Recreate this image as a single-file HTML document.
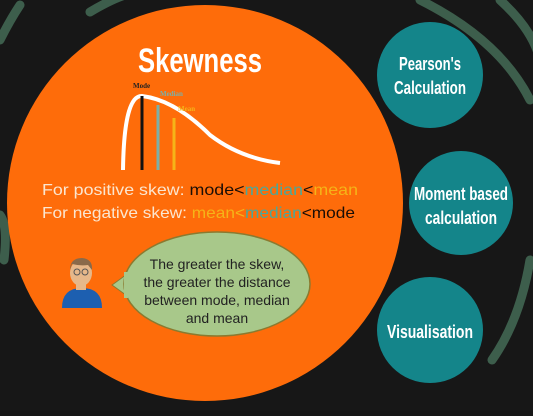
<!DOCTYPE html>
<html><head><style>
body{margin:0;width:533px;height:411px;overflow:hidden;background:#161616;font-family:"Liberation Sans",sans-serif}
</style></head><body>
<svg width="533" height="411" viewBox="0 0 533 411" xmlns="http://www.w3.org/2000/svg">
<rect width="533" height="411" fill="#171717"/>
<g fill="none" stroke="#3d5e4c" stroke-width="9" stroke-linecap="round">
<path d="M90 12 Q110 0 125 -5"/>
<path d="M0 40 Q10 20 20 5"/>
<path d="M0 215 Q8 225 4 260"/>
<path d="M420 0 Q500 40 530 100"/>
<path d="M500 0 Q533 30 540 60"/>
<path d="M530 260 Q520 320 492 360"/>
</g>
<circle cx="205" cy="203" r="198" fill="#fe6c0a"/>
<circle cx="430" cy="75" r="53" fill="#14858a"/>
<circle cx="461" cy="203" r="52" fill="#14858a"/>
<circle cx="430" cy="330" r="53" fill="#14858a"/>
<g fill="#fff" font-weight="bold" font-size="18" text-anchor="middle" lengthAdjust="spacingAndGlyphs">
<text x="430" y="70" textLength="62" lengthAdjust="spacingAndGlyphs">Pearson's</text>
<text x="430" y="94" textLength="72" lengthAdjust="spacingAndGlyphs">Calculation</text>
<text x="461" y="200" textLength="94" lengthAdjust="spacingAndGlyphs">Moment based</text>
<text x="461" y="224" textLength="72" lengthAdjust="spacingAndGlyphs">calculation</text>
<text x="430" y="338" textLength="86" lengthAdjust="spacingAndGlyphs">Visualisation</text>
</g>
<text x="200" y="72" fill="#fff" font-weight="bold" font-size="34" text-anchor="middle" textLength="124" lengthAdjust="spacingAndGlyphs">Skewness</text>
<path d="M123 170 Q124 95 142 96 Q175 100 210 135 Q240 158 280 163" fill="none" stroke="#fff" stroke-width="4"/>
<line x1="142" y1="96" x2="142" y2="170" stroke="#111" stroke-width="3"/>
<line x1="158" y1="105" x2="158" y2="170" stroke="#7ab0a8" stroke-width="3"/>
<line x1="174" y1="118" x2="174" y2="170" stroke="#f5b418" stroke-width="3"/>
<g font-family="Liberation Serif,serif" font-weight="bold" font-size="7">
<text x="133" y="88" fill="#222">Mode</text>
<text x="160" y="96" fill="#7ab0a8">Median</text>
<text x="178" y="111" fill="#f5b418">Mean</text>
</g>
<g font-size="16">
<text x="42" y="195" fill="#fbe6d0" textLength="316" lengthAdjust="spacingAndGlyphs">For positive skew: <tspan fill="#1a0e06">mode&lt;</tspan><tspan fill="#4aa89a">median</tspan><tspan fill="#1a0e06">&lt;</tspan><tspan fill="#f5b418">mean</tspan></text>
<text x="42" y="218" fill="#fbe6d0" textLength="313" lengthAdjust="spacingAndGlyphs">For negative skew: <tspan fill="#f5b418">mean&lt;</tspan><tspan fill="#4aa89a">median</tspan><tspan fill="#1a0e06">&lt;mode</tspan></text>
</g>
<path d="M112 285 L130 272 L130 298 Z" fill="#a8c88a" stroke="#8a7a30"/>
<ellipse cx="217" cy="284" rx="93" ry="52" fill="#a8c88a" stroke="#8a7a30" stroke-width="1.5"/>
<path d="M126 272 L126 298" stroke="#a8c88a" stroke-width="4"/>
<g font-size="14" fill="#222" text-anchor="middle">
<text x="217" y="269">The greater the skew,</text>
<text x="217" y="287">the greater the distance</text>
<text x="217" y="305">between mode, median</text>
<text x="217" y="323">and mean</text>
</g>
<path d="M62 308 Q62 288 82 288 Q102 288 102 308 Z" fill="#1d5fb0"/>
<rect x="76" y="280" width="10" height="10" fill="#e6b88a"/>
<ellipse cx="81" cy="273" rx="11" ry="13" fill="#e6b88a"/>
<path d="M70 270 Q70 258 82 258 Q93 259 92 270 L88 265 Q80 266 72 264 Z" fill="#8a6a4a"/>
<circle cx="77" cy="272" r="3" fill="none" stroke="#555"/>
<circle cx="85" cy="272" r="3" fill="none" stroke="#555"/>
</svg>
</body></html>
